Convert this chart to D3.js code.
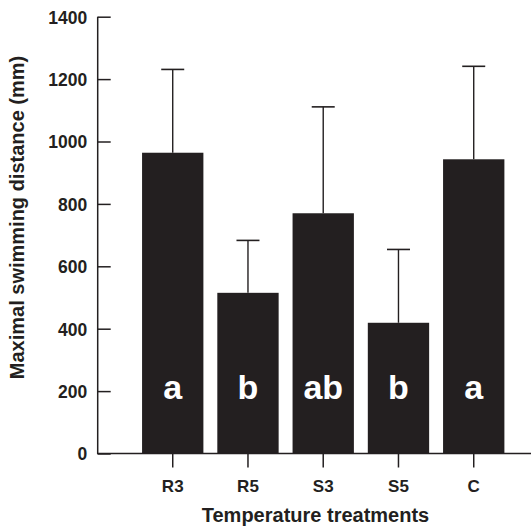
<!DOCTYPE html>
<html>
<head>
<meta charset="utf-8">
<script src="https://cdn.jsdelivr.net/npm/d3@7"></script>
<style>
  body { margin: 0; background: #fff; }
  svg { display: block; font-family: "Liberation Sans", Arial, Helvetica, sans-serif; font-weight: bold; }
</style>
</head>
<body>
<svg class="chart"></svg>
<script>
// data
var treatments = ["R3", "R5", "S3", "S5", "C"];
var means = [964, 515, 770, 419, 943];
var errors = [267, 168, 341, 235, 298];
var groups = ["a", "b", "ab", "b", "a"];
var yTicks = [0, 200, 400, 600, 800, 1000, 1200, 1400];

var frameWidth = 531;
var frameHeight = 528;
var ink = "#231f20";

var data = treatments.map(function(t, i) {
  return { name: t, mean: means[i], err: errors[i], group: groups[i] };
});

var svg = d3.select(".chart")
  .attr("width", frameWidth)
  .attr("height", frameHeight);

var axisX = 97.7;
var y0 = 453.5;
var yScale = d3.scaleLinear().domain([0, 1400]).range([y0, 16.7]);
var xScale = d3.scaleBand().domain(treatments)
  .range([135.1, 511.35])
  .paddingInner(0.185)
  .paddingOuter(0.0925);

// bars
svg.append("g").selectAll("rect").data(data)
  .enter().append("rect")
  .attr("x", function(d) { return xScale(d.name); })
  .attr("y", function(d) { return yScale(d.mean); })
  .attr("width", xScale.bandwidth())
  .attr("height", function(d) { return y0 - yScale(d.mean); })
  .attr("fill", ink);

// error bars (upper only)
var eb = svg.append("g").attr("stroke", ink).attr("stroke-width", 1.4);
eb.selectAll("line.v").data(data)
  .enter().append("line")
  .attr("class", "v")
  .attr("x1", function(d) { return xScale(d.name) + xScale.bandwidth() / 2; })
  .attr("x2", function(d) { return xScale(d.name) + xScale.bandwidth() / 2; })
  .attr("y1", function(d) { return yScale(d.mean); })
  .attr("y2", function(d) { return yScale(d.mean + d.err); });
eb.selectAll("line.cap").data(data)
  .enter().append("line")
  .attr("class", "cap")
  .attr("stroke-width", 1.6)
  .attr("x1", function(d) { return xScale(d.name) + xScale.bandwidth() / 2 - 11.5; })
  .attr("x2", function(d) { return xScale(d.name) + xScale.bandwidth() / 2 + 11.5; })
  .attr("y1", function(d) { return yScale(d.mean + d.err); })
  .attr("y2", function(d) { return yScale(d.mean + d.err); });

// group letters
svg.append("g").selectAll("text").data(data)
  .enter().append("text")
  .attr("x", function(d) { return xScale(d.name) + xScale.bandwidth() / 2; })
  .attr("y", 399.3)
  .attr("text-anchor", "middle")
  .attr("fill", "#fff")
  .style("font-size", "34px")
  .text(function(d) { return d.group; });

// y axis
var yAxis = svg.append("g")
  .attr("transform", "translate(" + axisX + ",0)")
  .call(d3.axisRight(yScale).tickValues(yTicks).tickSize(13).tickFormat(d3.format("d")));
yAxis.select(".domain").remove();
yAxis.selectAll(".tick line").attr("stroke", ink).attr("stroke-width", 1.5);
yAxis.selectAll(".tick text")
  .attr("x", -10.5)
  .attr("dy", "0.36em")
  .attr("text-anchor", "end")
  .attr("fill", ink)
  .style("font-size", "17.5px")
  .style("font-family", "Liberation Sans, Arial, sans-serif")
  .style("font-weight", "bold");
svg.append("line")
  .attr("x1", axisX).attr("x2", axisX)
  .attr("y1", yScale(1400)).attr("y2", y0)
  .attr("stroke", ink).attr("stroke-width", 1.5);

// x axis
var xAxis = svg.append("g")
  .attr("transform", "translate(0," + y0 + ")")
  .call(d3.axisBottom(xScale).tickSize(14).tickSizeOuter(0));
xAxis.select(".domain").remove();
xAxis.selectAll(".tick line").attr("stroke", ink).attr("stroke-width", 1.5);
xAxis.selectAll(".tick text")
  .attr("y", 38.2)
  .attr("dy", 0)
  .attr("fill", ink)
  .style("font-size", "17px")
  .style("font-family", "Liberation Sans, Arial, sans-serif")
  .style("font-weight", "bold");
svg.append("line")
  .attr("x1", axisX - 0.75).attr("x2", frameWidth)
  .attr("y1", y0).attr("y2", y0)
  .attr("stroke", ink).attr("stroke-width", 1.5);

// axis titles
svg.append("text")
  .attr("x", 315.5)
  .attr("y", 521.7)
  .attr("text-anchor", "middle")
  .attr("fill", ink)
  .style("font-size", "20px")
  .text("Temperature treatments");

svg.append("text")
  .attr("transform", "translate(24,217.5) rotate(-90)")
  .attr("text-anchor", "middle")
  .attr("fill", ink)
  .style("font-size", "20px")
  .text("Maximal swimming distance (mm)");
</script>
</body>
</html>
